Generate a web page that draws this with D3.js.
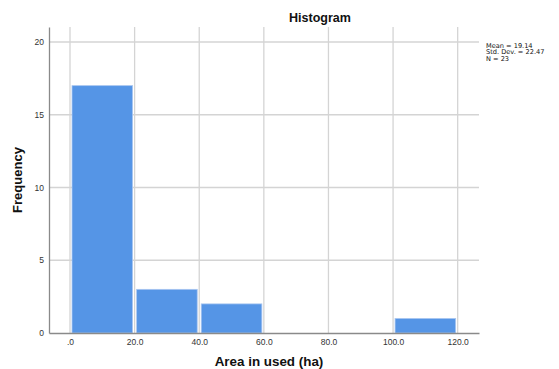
<!DOCTYPE html>
<html><head><meta charset="utf-8">
<script src="https://cdn.jsdelivr.net/npm/d3@7"></script>
<style>body{margin:0;background:#fff}svg{display:block}</style>
</head><body>
<script>
const binEdges = [0, 20, 40, 60, 80, 100, 120];
const counts = [17, 3, 2, 0, 0, 1];
const xTicks = [0, 20, 40, 60, 80, 100, 120];
const xTickLabels = [".0", "20.0", "40.0", "60.0", "80.0", "100.0", "120.0"];
const yTicks = [0, 5, 10, 15, 20];
const statsLines = ["Mean = 19.14", "Std. Dev. = 22.47", "N = 23"];
const chartTitle = "Histogram";
const xTitle = "Area in used (ha)";
const yTitle = "Frequency";

const W = 559, H = 369;
const mL = 49, mR = 479, mT = 27, mB = 333;
const svg = d3.select("body").append("svg").attr("width", W).attr("height", H);
const font = "'Liberation Sans', Arial, sans-serif";

const x = d3.scaleLinear().domain([-6.5, 126.6]).range([mL, mR]);
const y = d3.scaleLinear().domain([0, 21.03]).range([mB, mT]);

// gridlines
const grid = svg.append("g");
grid.selectAll("line.v").data(xTicks).join("line").attr("class", "v")
  .attr("x1", d => x(d)).attr("x2", d => x(d)).attr("y1", mT).attr("y2", mB)
  .attr("stroke", "#d4d4d4").attr("stroke-width", 1.3);
grid.selectAll("line.h").data(yTicks.slice(1)).join("line").attr("class", "h")
  .attr("x1", mL).attr("x2", mR).attr("y1", d => y(d)).attr("y2", d => y(d))
  .attr("stroke", "#d4d4d4").attr("stroke-width", 1.3);

// bars
const bins = counts.map((c, i) => ({x0: binEdges[i], x1: binEdges[i + 1], c}));
svg.append("g").selectAll("rect").data(bins.filter(b => b.c > 0)).join("rect")
  .attr("x", d => x(d.x0) + 2)
  .attr("width", d => x(d.x1) - x(d.x0) - 4)
  .attr("y", d => y(d.c))
  .attr("height", d => y(0) - y(d.c))
  .attr("fill", "#5595e6")
  .attr("stroke", "#a9c6f0").attr("stroke-width", 0.8);

// axes
const xAxis = svg.append("g").attr("transform", `translate(0,${mB})`)
  .call(d3.axisBottom(x).tickValues(xTicks).tickFormat((d, i) => xTickLabels[i]).tickSize(0).tickPadding(6));
xAxis.select(".domain").attr("stroke", "#8a8a8a").attr("stroke-width", 1.3);
xAxis.selectAll("text").attr("font-family", font).attr("font-size", 8.5).attr("fill", "#333");

const yAxis = svg.append("g").attr("transform", `translate(${mL},0)`)
  .call(d3.axisLeft(y).tickValues(yTicks).tickFormat(d3.format("d")).tickSize(0).tickPadding(5));
yAxis.select(".domain").attr("stroke", "#8a8a8a").attr("stroke-width", 1.3);
yAxis.selectAll("text").attr("font-family", font).attr("font-size", 8.5).attr("fill", "#333");

// titles
svg.append("text").attr("x", 320).attr("y", 22).attr("text-anchor", "middle")
  .attr("font-family", font).attr("font-weight", "bold").attr("font-size", 12.5).attr("fill", "#111")
  .text(chartTitle);
svg.append("text").attr("x", 269).attr("y", 366).attr("text-anchor", "middle")
  .attr("font-family", font).attr("font-weight", "bold").attr("font-size", 13.4).attr("fill", "#111")
  .text(xTitle);
svg.append("text").attr("transform", `translate(22,${(mT + mB) / 2}) rotate(-90)`).attr("text-anchor", "middle")
  .attr("font-family", font).attr("font-weight", "bold").attr("font-size", 13).attr("fill", "#111")
  .text(yTitle);

// stats
svg.append("g").selectAll("text").data(statsLines).join("text")
  .attr("x", 486).attr("y", (d, i) => 47.5 + i * 6.6)
  .attr("font-family", "'DejaVu Sans', sans-serif").attr("font-size", 6.6).attr("fill", "#111")
  .text(d => d);
</script>
</body></html>
